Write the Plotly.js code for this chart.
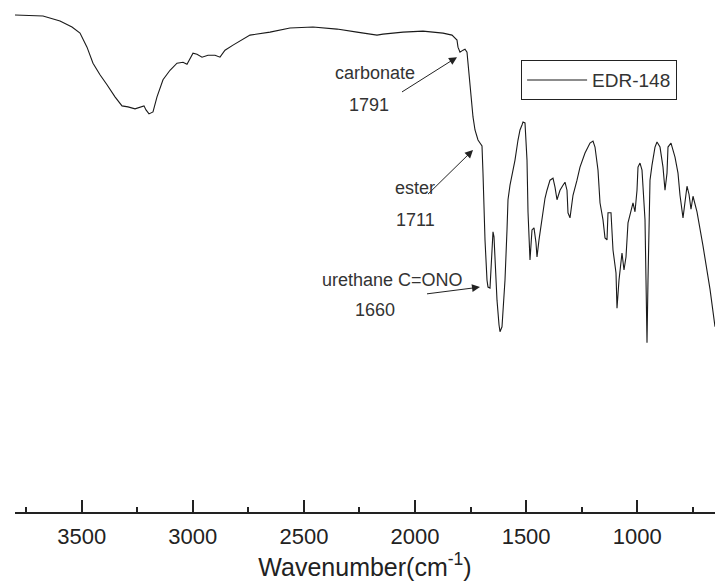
<!DOCTYPE html>
<html>
<head>
<meta charset="utf-8">
<script src="https://cdn.plot.ly/plotly-3.0.1.min.js"></script>
<style>
html,body{margin:0;padding:0;background:#fff;}
#chart{width:715px;height:587px;}
</style>
</head>
<body>
<div id="chart"></div>
<script>
// Wavenumber (cm^-1)
const wavenumber = [3800,3674,3597.5,3543.5,3507.5,3476,3449,3417.5,3386,3350,3318.5,3291.5,3260,3237.5,3219.5,3210.5,3197,3179,3161,3134,3102.5,3071,3044,3026,3012.5,2999,2981,2958.5,2931.5,2900,2877.5,2855,2819,2787.5,2751.5,2742.5,2652.5,2562.5,2459,2351,2261,2171,2144,2054,1964,1874,1833.5,1811,1806.5,1797.5,1784,1775,1766,1761.5,1752.5,1743.5,1739,1730,1721,1716.5,1707.5,1698.5,1694,1689.5,1685,1676,1671.5,1662.5,1658,1653.5,1649,1644.5,1640,1631,1622,1617.5,1608.5,1595,1586,1581.5,1572.5,1563.5,1550,1536.5,1527.5,1518.5,1514,1505,1496,1491.5,1482.5,1473.5,1464.5,1455.5,1451,1442,1428.5,1415,1406,1392.5,1379,1370,1361,1347.5,1334,1325,1316,1311.5,1302.5,1293.5,1289,1271,1257.5,1235,1212.5,1199,1190,1176.5,1167.5,1154,1145,1136,1131.5,1118,1113.5,1109,1095.5,1091,1082,1068.5,1059.5,1050.5,1041.5,1023.5,1019,1010,1001,996.5,987.5,978.5,969.5,965,960.5,956,951.5,942.5,933.5,920,911,897.5,884,875,866,861.5,848,830,816.5,807.5,794,776,767,758,749,731,704,672.5,650];
// Transmittance (%)
const transmittance = [99.0,98.8,97.8,96.6,95.4,92.6,89.4,87.1,85.1,82.7,80.9,80.7,80.3,80.7,80.9,80.1,79.3,79.7,82.7,86.1,88.0,89.4,89.6,89.2,90.4,91.4,91.2,90.6,91.0,91.0,90.6,92.0,93.0,93.8,94.6,95.0,95.6,96.4,96.6,96.2,95.6,95.0,95.2,95.6,95.8,95.4,95.0,94.0,92.6,91.6,92.0,92.2,91.6,89.4,84.7,80.7,78.7,76.1,74.7,74.1,73.5,72.9,67.5,60.8,54.2,46.2,44.8,44.6,48.2,54.2,55.8,54.8,49.2,42.2,37.3,35.9,36.9,46.2,56.2,62.2,65.1,67.1,70.1,74.1,76.1,77.1,77.7,77.5,70.1,59.8,50.2,56.2,56.6,53.6,50.8,54.2,58.2,62.5,64.1,66.1,66.5,64.7,62.2,64.1,65.1,65.7,64.1,59.6,58.6,61.2,63.1,66.1,68.7,71.5,73.5,73.9,72.7,68.1,61.6,58.2,54.6,54.2,59.6,59.6,56.8,52.2,47.6,40.6,46.2,51.6,48.2,50.8,57.6,60.8,61.6,59.8,64.1,68.7,69.5,68.1,62.2,58.2,46.2,33.7,46.2,66.1,69.1,72.7,73.7,72.7,68.7,64.1,67.5,72.7,73.5,70.7,67.5,63.1,58.6,64.9,63.3,60.3,62.9,59.8,53.0,44.4,36.9];

const seriesName = "EDR-148";
const tickValues = [3500,3000,2500,2000,1500,1000];
const tickLabels = ["3500","3000","2500","2000","1500","1000"];

// Annotations: group names, band labels, arrow targets (wavenumber, T)
const bandNames = ["carbonate","ester","urethane C=ONO"];
const bandLabels = ["1791","1711","1660"];
const arrowX = [1811,1739,1707.5];
const arrowY = [90.6,72.1,44.8];
const nameX = [2180,2000,2103.5];
const nameY = [87.5,64.5,46.2];
const labelX = [2207,2000,2180];
const labelY = [81.1,58.2,40.2];
const tailDx = [-57,-47,-55];
const tailDy = [36,46,7];

const font = "Arial, 'Liberation Sans', sans-serif";
const annotations = [];
for (let i = 0; i < bandNames.length; i++) {
  annotations.push({x: arrowX[i], y: arrowY[i], xref:'x', yref:'y', text:' ', showarrow:true,
    font:{size:2, color:'rgba(0,0,0,0)'},
    ax: tailDx[i], ay: tailDy[i], arrowhead:2, arrowsize:1.6, arrowwidth:1, arrowcolor:'#222', standoff:0, startstandoff:0});
  annotations.push({x: nameX[i], y: nameY[i], xref:'x', yref:'y', text: bandNames[i], showarrow:false,
    font:{family:font, size:18, color:'#333'}});
  annotations.push({x: labelX[i], y: labelY[i], xref:'x', yref:'y', text: bandLabels[i], showarrow:false,
    font:{family:font, size:18, color:'#333'}});
}

const trace = {
  x: wavenumber, y: transmittance, type:'scatter', mode:'lines', name: seriesName,
  line:{color:'#1a1a1a', width:1.1}
};

const layout = {
  width:715, height:587,
  margin:{l:15, r:0, t:10, b:75},
  paper_bgcolor:'#fff', plot_bgcolor:'#fff',
  showlegend:true,
  legend:{x:0.723, y:0.9, xanchor:'left', yanchor:'top', bordercolor:'#222', borderwidth:1,
    bgcolor:'#fff', font:{family:font, size:19, color:'#333'}, itemwidth:60, tracegroupgap:0},
  xaxis:{
    range:[3800,650], tickmode:'array', tickvals:tickValues, ticktext:tickLabels,
    ticks:'inside', ticklen:12, tickwidth:2, tickcolor:'#222',
    showline:true, linecolor:'#222', linewidth:2, showgrid:false, zeroline:false,
    minor:{dtick:250, tick0:0, ticks:'inside', ticklen:5, tickwidth:2, tickcolor:'#222', showgrid:false},
    tickfont:{family:font, size:22, color:'#222'}, ticklabelstandoff:4,
    title:{text:'Wavenumber(cm<sup>-1</sup>)', font:{family:font, size:25, color:'#222'}, standoff:4}
  },
  yaxis:{range:[0,100], visible:false, showgrid:false, zeroline:false, showticklabels:false, showline:false},
  annotations: annotations
};

Plotly.newPlot('chart', [trace], layout, {staticPlot:true, displayModeBar:false});
</script>
</body>
</html>
